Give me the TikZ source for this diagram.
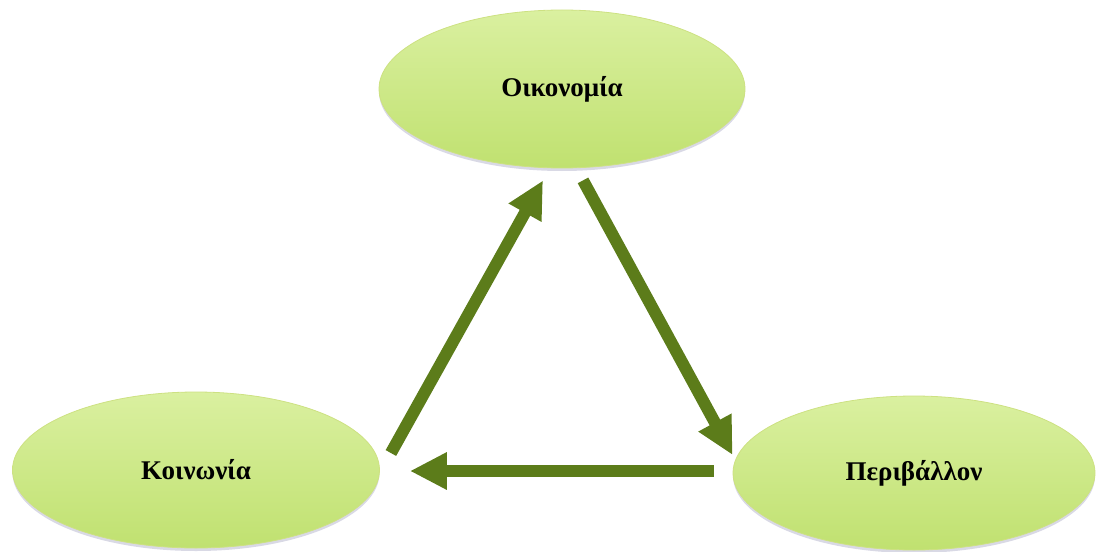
\documentclass[tikz,border=0pt]{standalone}
\usepackage{fontspec}
\setmainfont{Liberation Serif}
\usetikzlibrary{shapes.geometric,arrows.meta,shadows}
\definecolor{leaftop}{RGB}{218,240,160}
\definecolor{leafbot}{RGB}{192,225,112}
\definecolor{leafrim}{RGB}{205,225,130}
\definecolor{flowgreen}{RGB}{92,124,26}
\tikzset{
  pillar/.style={ellipse, inner sep=0pt, draw=leafrim, line width=0.4pt,
    top color=leaftop, bottom color=leafbot,
    drop shadow={shadow xshift=0pt, shadow yshift=-1.5pt, opacity=0.25, fill=gray!80!blue},
    font=\fontsize{13.5}{16}\selectfont\bfseries},
  flow/.style={draw=flowgreen, line width=6pt,
    -{Triangle[length=18.5pt, width=17.5pt, fill=flowgreen]}}
}
\begin{document}
\begin{tikzpicture}[x=0.5pt, y=-0.5pt]
      \useasboundingbox (0, 0) rectangle (1096, 551);
      \node[pillar, minimum width=183pt, minimum height=79pt] (oik) at (562, 89) {Οικονομία};
      \node[pillar, minimum width=183.5pt, minimum height=78pt] (koin) at (196, 470) {Κοινωνία};
      \node[pillar, minimum width=181pt, minimum height=77pt] (peri) at (914, 473) {Περιβάλλον};
      \draw[flow] ([xshift=5.5pt, yshift=8.5pt]koin.east) -- ([xshift=-9.5pt, yshift=-6pt]oik.south);
      \draw[flow] ([xshift=10.5pt, yshift=-6pt]oik.south) -- ([yshift=9pt]peri.west);
      \draw[flow] ([xshift=-9.5pt, yshift=1pt]peri.west) -- ([xshift=15pt, yshift=-0.5pt]koin.east);
    \end{tikzpicture}
\end{document}
